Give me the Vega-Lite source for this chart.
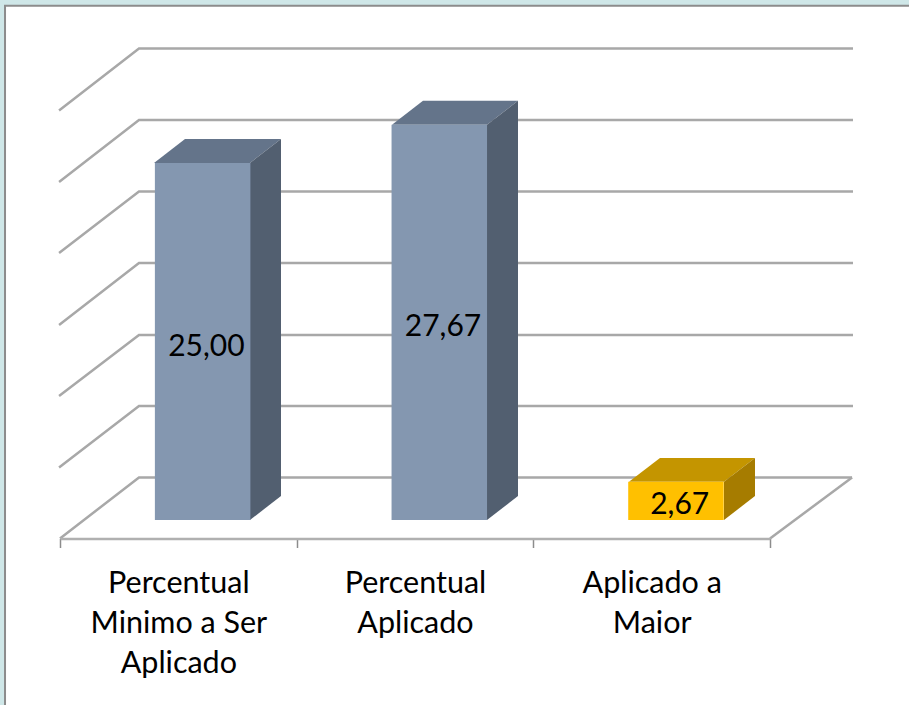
{
"$schema":"https://vega.github.io/schema/vega-lite/v6.json",
"width":793,"height":491.5,
"autosize":"none",
"padding":{"left":60,"top":47,"right":56,"bottom":166.5},
"background":"#cfe7e8",
"config":{"view":{"stroke":null}},
"datasets":{
"bars":[
{"category":"Percentual Minimo a Ser Aplicado","value":25.00,"label":"25,00","labelAt":12.1},
{"category":"Percentual Aplicado","value":27.67,"label":"27,67","labelAt":13.5},
{"category":"Aplicado a Maior","value":2.67,"label":"2,67","labelAt":1.05}
],
"frame":[{"x":-0.232,"x2":3.7,"y":36.0,"y2":-20}],
"grid":[
{"tick":30,"x":-0.004,"y":28.68},{"tick":30,"x":0.3333,"y":33.02},{"tick":30,"x":3.346,"y":33.02},
{"tick":25,"x":-0.004,"y":23.67},{"tick":25,"x":0.3333,"y":28.01},{"tick":25,"x":3.346,"y":28.01},
{"tick":20,"x":-0.004,"y":18.70},{"tick":20,"x":0.3333,"y":23.00},{"tick":20,"x":3.346,"y":23.00},
{"tick":15,"x":-0.004,"y":13.66},{"tick":15,"x":0.3333,"y":18.00},{"tick":15,"x":3.346,"y":18.00},
{"tick":10,"x":-0.004,"y":8.68},{"tick":10,"x":0.3333,"y":12.96},{"tick":10,"x":3.346,"y":12.96},
{"tick":5,"x":-0.004,"y":3.68},{"tick":5,"x":0.3333,"y":7.98},{"tick":5,"x":3.346,"y":7.98},
{"tick":0,"x":0,"y":-1.295},{"tick":0,"x":0.3333,"y":2.98},{"tick":0,"x":3.342,"y":2.98}
],
"floorEdge":[{"x":3.342,"y":2.98},{"x":2.996,"y":-1.295}],
"faces":[
{"face":"a-top","tone":"base-top","x":0.3966,"y":25.00,"y2":25.00},
{"face":"a-top","tone":"base-top","x":0.5274,"y":26.68,"y2":25.00},
{"face":"a-top","tone":"base-top","x":0.8017,"y":26.68,"y2":25.00},
{"face":"a-top","tone":"base-top","x":0.9325,"y":26.68,"y2":26.68},
{"face":"a-side","tone":"base-side","x":0.8017,"y":25.00,"y2":0},
{"face":"a-side","tone":"base-side","x":0.9325,"y":26.68,"y2":1.68},
{"face":"b-top","tone":"base-top","x":1.4008,"y":27.67,"y2":27.67},
{"face":"b-top","tone":"base-top","x":1.5316,"y":29.35,"y2":27.67},
{"face":"b-top","tone":"base-top","x":1.8017,"y":29.35,"y2":27.67},
{"face":"b-top","tone":"base-top","x":1.9325,"y":29.35,"y2":29.35},
{"face":"b-side","tone":"base-side","x":1.8017,"y":27.67,"y2":0},
{"face":"b-side","tone":"base-side","x":1.9325,"y":29.35,"y2":1.68},
{"face":"c-top","tone":"gold-top","x":2.4008,"y":2.67,"y2":2.67},
{"face":"c-top","tone":"gold-top","x":2.5316,"y":4.35,"y2":2.67},
{"face":"c-top","tone":"gold-top","x":2.8017,"y":4.35,"y2":2.67},
{"face":"c-top","tone":"gold-top","x":2.9325,"y":4.35,"y2":4.35},
{"face":"c-side","tone":"gold-side","x":2.8017,"y":2.67,"y2":0},
{"face":"c-side","tone":"gold-side","x":2.9325,"y":4.35,"y2":1.68}
]
},
"resolve":{"scale":{"x":"independent","color":"independent"},"axis":{"x":"independent"}},
"layer":[
{"data":{"name":"frame"},
 "mark":{"type":"rect","fill":"white","stroke":"#8c8c8c","strokeWidth":2},
 "encoding":{
  "x":{"field":"x","type":"quantitative","axis":null,"scale":{"domain":[0,3.346],"nice":false,"zero":false}},
  "x2":{"field":"x2"},
  "y":{"field":"y","type":"quantitative","axis":null,"scale":{"domain":[-1.295,33.12],"nice":false,"zero":false}},
  "y2":{"field":"y2"}}},
{"data":{"name":"grid"},
 "mark":{"type":"line","stroke":"#a8a8a8","strokeWidth":2.5,"interpolate":"linear"},
 "encoding":{
  "x":{"field":"x","type":"quantitative","axis":null,"scale":{"domain":[0,3.346],"nice":false,"zero":false}},
  "y":{"field":"y","type":"quantitative","axis":null,"scale":{"domain":[-1.295,33.12],"nice":false,"zero":false}},
  "detail":{"field":"tick","type":"nominal"}}},
{"data":{"name":"floorEdge"},
 "mark":{"type":"line","stroke":"#a8a8a8","strokeWidth":2.5},
 "encoding":{
  "x":{"field":"x","type":"quantitative","axis":null,"scale":{"domain":[0,3.346],"nice":false,"zero":false}},
  "y":{"field":"y","type":"quantitative","axis":null,"scale":{"domain":[-1.295,33.12],"nice":false,"zero":false}}}},
{"data":{"name":"faces"},
 "mark":{"type":"area","interpolate":"linear","opacity":1},
 "encoding":{
  "x":{"field":"x","type":"quantitative","axis":null,"scale":{"domain":[0,3.346],"nice":false,"zero":false}},
  "y":{"field":"y","type":"quantitative","axis":null,"scale":{"domain":[-1.295,33.12],"nice":false,"zero":false}},
  "y2":{"field":"y2"},
  "detail":{"field":"face","type":"nominal"},
  "color":{"field":"tone","type":"nominal","legend":null,"scale":{"domain":["base-top","base-side","gold-top","gold-side"],"range":["#64748a","#525f70","#c49500","#a67c00"]}}}},
{"data":{"name":"bars"},
 "mark":{"type":"bar","width":95.5,"xOffset":24.3},
 "encoding":{
  "x":{"field":"category","type":"nominal","sort":null,
   "scale":{"domain":["Percentual Minimo a Ser Aplicado","Percentual Aplicado","Aplicado a Maior"],"range":[0,710],"paddingInner":0,"paddingOuter":0},
   "title":null,
   "axis":{"zindex":1,"tickBand":"extent","labelAngle":0,"domainColor":"#b0b0b0","domainWidth":2.5,"tickColor":"#8c8c8c","tickWidth":1.5,"tickSize":9,
    "labelFont":"Lato","labelFontSize":30.5,"labelColor":"#000000","labelLineHeight":40,"labelPadding":20.5,"labelLimit":0,"labelBaseline":"top",
    "labelExpr":"datum.label == 'Percentual Minimo a Ser Aplicado' ? ['Percentual','Minimo a Ser','Aplicado'] : datum.label == 'Percentual Aplicado' ? ['Percentual','Aplicado'] : datum.label == 'Aplicado a Maior' ? ['Aplicado a','Maior'] : ''"}},
  "y":{"field":"value","type":"quantitative","axis":null,"scale":{"domain":[-1.295,33.12],"nice":false,"zero":false}},
  "y2":{"datum":0},
  "color":{"field":"category","type":"nominal","legend":null,"scale":{"domain":["Percentual Minimo a Ser Aplicado","Percentual Aplicado","Aplicado a Maior"],"range":["#8497b0","#8497b0","#ffc000"]}}}},
{"data":{"name":"bars"},
 "mark":{"type":"text","font":"Lato","fontSize":30,"color":"#000000","xOffset":28,"baseline":"middle"},
 "encoding":{
  "x":{"field":"category","type":"nominal","sort":null,"axis":null,
   "scale":{"domain":["Percentual Minimo a Ser Aplicado","Percentual Aplicado","Aplicado a Maior"],"range":[0,710],"paddingInner":0,"paddingOuter":0}},
  "y":{"field":"labelAt","type":"quantitative","axis":null,"scale":{"domain":[-1.295,33.12],"nice":false,"zero":false}},
  "text":{"field":"label","type":"nominal"}}}
]
}
